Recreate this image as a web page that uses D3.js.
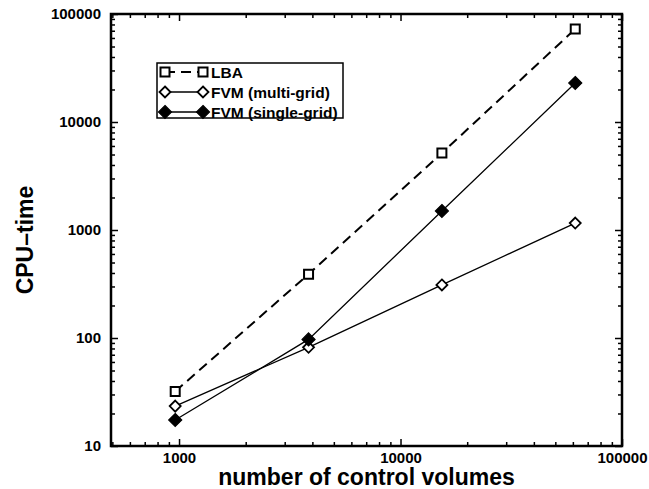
<!DOCTYPE html>
<html><head><meta charset="utf-8">
<script src="https://cdn.jsdelivr.net/npm/d3@7"></script>
<style>body{margin:0;background:#fff}svg{display:block}text{font-family:"Liberation Sans",Arial,Helvetica,sans-serif;font-weight:bold;fill:#000}</style>
</head><body>
<svg id="c" width="649" height="489"></svg>
<script>
// ---- data ----
const gridSizes = [961, 3844, 15376, 61504];
const lbaTime = [32, 390, 5160, 72600];
const fvmMultiTime = [23.4, 82, 310, 1160];
const fvmSingleTime = [17.4, 97, 1500, 22970];
const seriesNames = ["LBA", "FVM (multi-grid)", "FVM (single-grid)"];
const xTickValues = [1000, 10000, 100000];
const yTickValues = [10, 100, 1000, 10000, 100000];
const xTitle = "number of control volumes";
const yTitle = "CPU\u2013time";

// ---- layout ----
const L = 111, R = 622, T = 14, B = 446;
const svg = d3.select("#c");
const x = d3.scaleLog().domain([493, 100000]).range([L, R]);
const y = d3.scaleLog().domain([10, 100000]).range([B, T]);

function minors(lo, hi) {
  const out = [];
  for (let p = Math.floor(Math.log10(lo)); p <= Math.ceil(Math.log10(hi)); p++) {
    for (let m = 2; m <= 9; m++) { const v = m * Math.pow(10, p); if (v >= lo && v <= hi) out.push(v); }
  }
  return out;
}
const xMinor = minors(493, 100000);
const yMinor = minors(10, 100000);
const fmt = d3.format("d");

function axisGroup(axis, tx, ty) {
  const g = svg.append("g").attr("transform", `translate(${tx},${ty})`).call(axis);
  g.select(".domain").remove();
  g.selectAll(".tick line").attr("stroke", "#000").attr("stroke-width", 1.5);
  g.selectAll("text").attr("font-size", "15px").attr("font-family", null);
  return g;
}
// major ticks
axisGroup(d3.axisBottom(x).tickValues(xTickValues).tickSize(-7).tickPadding(6).tickFormat(fmt), 0, B);
axisGroup(d3.axisTop(x).tickValues(xTickValues).tickSize(-7).tickFormat(""), 0, T);
axisGroup(d3.axisLeft(y).tickValues(yTickValues).tickSize(-7).tickPadding(10).tickFormat(fmt), L, 0);
axisGroup(d3.axisRight(y).tickValues(yTickValues).tickSize(-7).tickFormat(""), R, 0);
// minor ticks
axisGroup(d3.axisBottom(x).tickValues(xMinor).tickSize(-4).tickFormat(""), 0, B);
axisGroup(d3.axisTop(x).tickValues(xMinor).tickSize(-4).tickFormat(""), 0, T);
axisGroup(d3.axisLeft(y).tickValues(yMinor).tickSize(-4).tickFormat(""), L, 0);
axisGroup(d3.axisRight(y).tickValues(yMinor).tickSize(-4).tickFormat(""), R, 0);

// frame
svg.append("rect").attr("x", L).attr("y", T).attr("width", R - L).attr("height", B - T)
  .attr("fill", "none").attr("stroke", "#000").attr("stroke-width", 2.5);

// titles
svg.append("text").attr("x", (L + R) / 2).attr("y", 485).attr("text-anchor", "middle")
  .attr("font-size", "23px").text(xTitle);
svg.append("text").attr("transform", `translate(33,${(T + B) / 2 + 10}) rotate(-90)`)
  .attr("text-anchor", "middle").attr("font-size", "23px").text(yTitle);

// marker shapes
const sq = s => `M${-s},${-s}H${s}V${s}H${-s}Z`;
const dia = s => `M0,${-s}L${s},0L0,${s}L${-s},0Z`;

const series = [
  {name: seriesNames[0], vals: lbaTime, dash: "10,6", lw: 2, shape: sq(4.5), fill: "#fff", sw: 2},
  {name: seriesNames[1], vals: fvmMultiTime, dash: null, lw: 1.3, shape: dia(5.5), fill: "#fff", sw: 1.8},
  {name: seriesNames[2], vals: fvmSingleTime, dash: null, lw: 1.3, shape: dia(6.5), fill: "#000", sw: 1.2}
];
const line = d3.line().x(d => x(d[0])).y(d => y(d[1]));
series.forEach(s => {
  const pts = gridSizes.map((g, i) => [g, s.vals[i]]);
  svg.append("path").attr("d", line(pts)).attr("fill", "none").attr("stroke", "#000")
    .attr("stroke-width", s.lw).attr("stroke-dasharray", s.dash);
  svg.selectAll(null).data(pts).enter().append("path")
    .attr("transform", d => `translate(${x(d[0])},${y(d[1])})`)
    .attr("d", s.shape).attr("fill", s.fill).attr("stroke", "#000").attr("stroke-width", s.sw);
});

// legend
const lg = svg.append("g");
lg.append("rect").attr("x", 157).attr("y", 63).attr("width", 186).attr("height", 55)
  .attr("fill", "#fff").attr("stroke", "#000").attr("stroke-width", 1.5);
series.forEach((s, i) => {
  const cy = 72 + i * 20;
  lg.append("line").attr("x1", 165).attr("x2", 203).attr("y1", cy).attr("y2", cy)
    .attr("stroke", "#000").attr("stroke-width", s.lw).attr("stroke-dasharray", s.dash);
  [165, 203].forEach(px => lg.append("path").attr("transform", `translate(${px},${cy})`)
    .attr("d", s.shape).attr("fill", s.fill).attr("stroke", "#000").attr("stroke-width", s.sw));
  lg.append("text").attr("x", 211).attr("y", cy + 5.5).attr("font-size", "15.5px").text(s.name);
});
</script>
</body></html>
